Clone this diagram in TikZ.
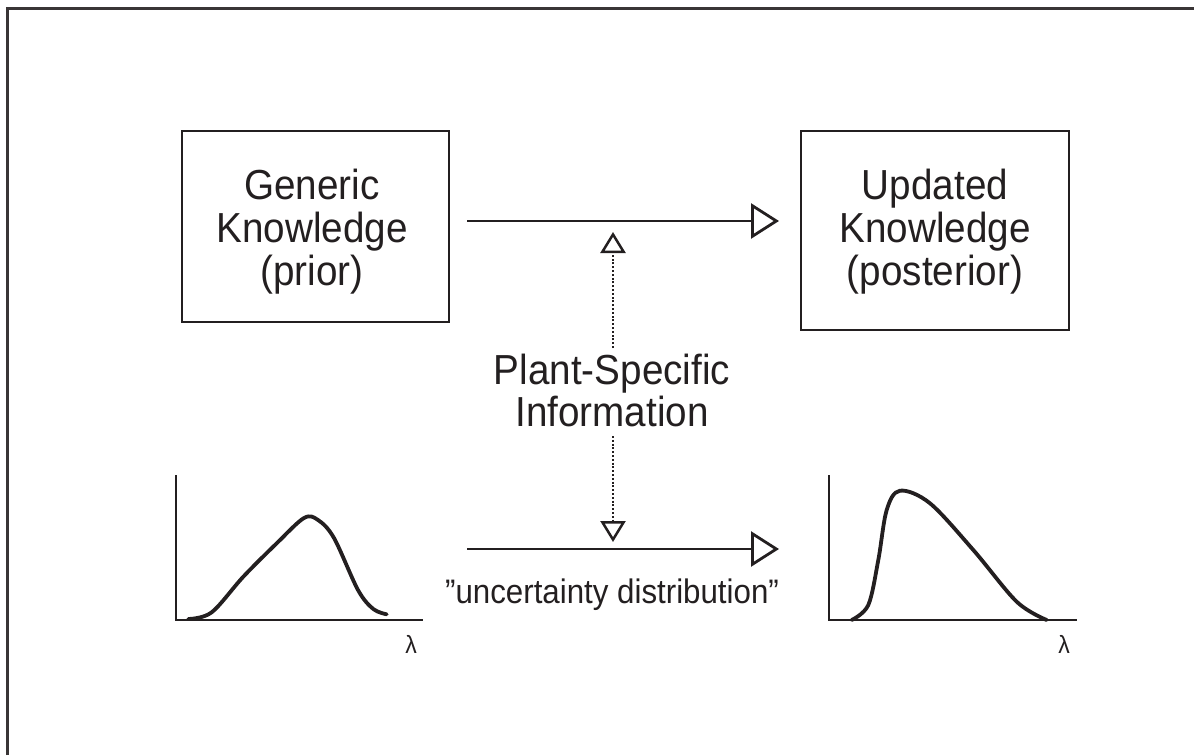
\documentclass[tikz,border=0pt]{standalone}
\usepackage{fontspec}
\setmainfont[FakeStretch=0.92]{Liberation Sans}
\usetikzlibrary{arrows.meta}
\definecolor{ink}{HTML}{231F20}
\newcommand\tightlines{\lineskiplimit=-100pt\relax\lineskip=0pt\relax}
\begin{document}
\begin{tikzpicture}[x=1pt,y=-1pt,
  box/.style={draw=ink, line width=2.8pt, inner sep=0pt},
  lbl/.style={text=ink, align=center, inner sep=0pt, font=\fontsize{42}{43}\selectfont\tightlines},
  conn/.style={draw=ink, line width=2.8pt, -{Triangle[open, length=28pt, width=35pt]}},
  dots/.style={draw=ink, line width=2.5pt, dash pattern=on 2pt off 1.8pt, -{Triangle[open, length=21pt, width=25pt]}},
  axis/.style={draw=ink, line width=2.6pt},
  curve/.style={draw=ink, line width=3.8pt, line cap=round, line join=round},
  small/.style={text=ink, inner sep=0pt, anchor=base},
]
\useasboundingbox (0,0) rectangle (1194,755);
% frame
\draw[draw=ink!90, line width=3pt] (7,755) -- (7,8) -- (1194,8);

% boxes
\node[box, minimum width=267pt, minimum height=191pt] (gen) at (315.5,226.5) {};
\node[box, minimum width=268pt, minimum height=199pt] (upd) at (935,230.5) {};
\node[lbl] (gent) at (312,232) {Generic\\Knowledge\\(prior)};
\node[lbl] (updt) at (935,232) {Updated\\Knowledge\\(posterior)};

% main arrows
\coordinate (t1) at (467,221);
\coordinate (t2) at (779,221);
\draw[conn] (t1) -- (t2);
\coordinate (b1) at (467,549);
\coordinate (b2) at (779,549);
\draw[conn] (b1) -- (b2);

% plant-specific information
\node[lbl, font=\fontsize{42}{42}\selectfont\tightlines] (info) at (612,390) {Plant-Specific\\Information};
\coordinate (u1) at (613,348);
\coordinate (u2) at (613,232);
\draw[dots] (u1) -- (u2);
\coordinate (d1) at (613,436);
\coordinate (d2) at (613,542);
\draw[dots] (d1) -- (d2);

\node[small, font=\fontsize{34}{36}\selectfont] (unc) at (612,603) {”uncertainty distribution”};

% left graph
\draw[axis] (176,475) -- (176,620) -- (423,620);
\draw[curve] plot[smooth, tension=0.55] coordinates {(188.3,619) (211.7,612.3) (243.3,576.7) (276.7,543.3) (304,518) (318,520) (334,538) (358,590) (373.3,609) (386.7,614.3)};
\node[small, font=\fontsize{25}{26}\selectfont] (lam1) at (411,653) {λ};

% right graph
\draw[axis] (829,475) -- (829,620) -- (1077,620);
\draw[curve] plot[smooth, tension=0.55] coordinates {(851.7,620) (868.3,605) (878.3,560) (886.7,510) (900,490.7) (930,503.3) (973.3,550) (1016.7,601.7) (1046.7,620)};
\node[small, font=\fontsize{25}{26}\selectfont] (lam2) at (1064,653) {λ};
\end{tikzpicture}
\end{document}
